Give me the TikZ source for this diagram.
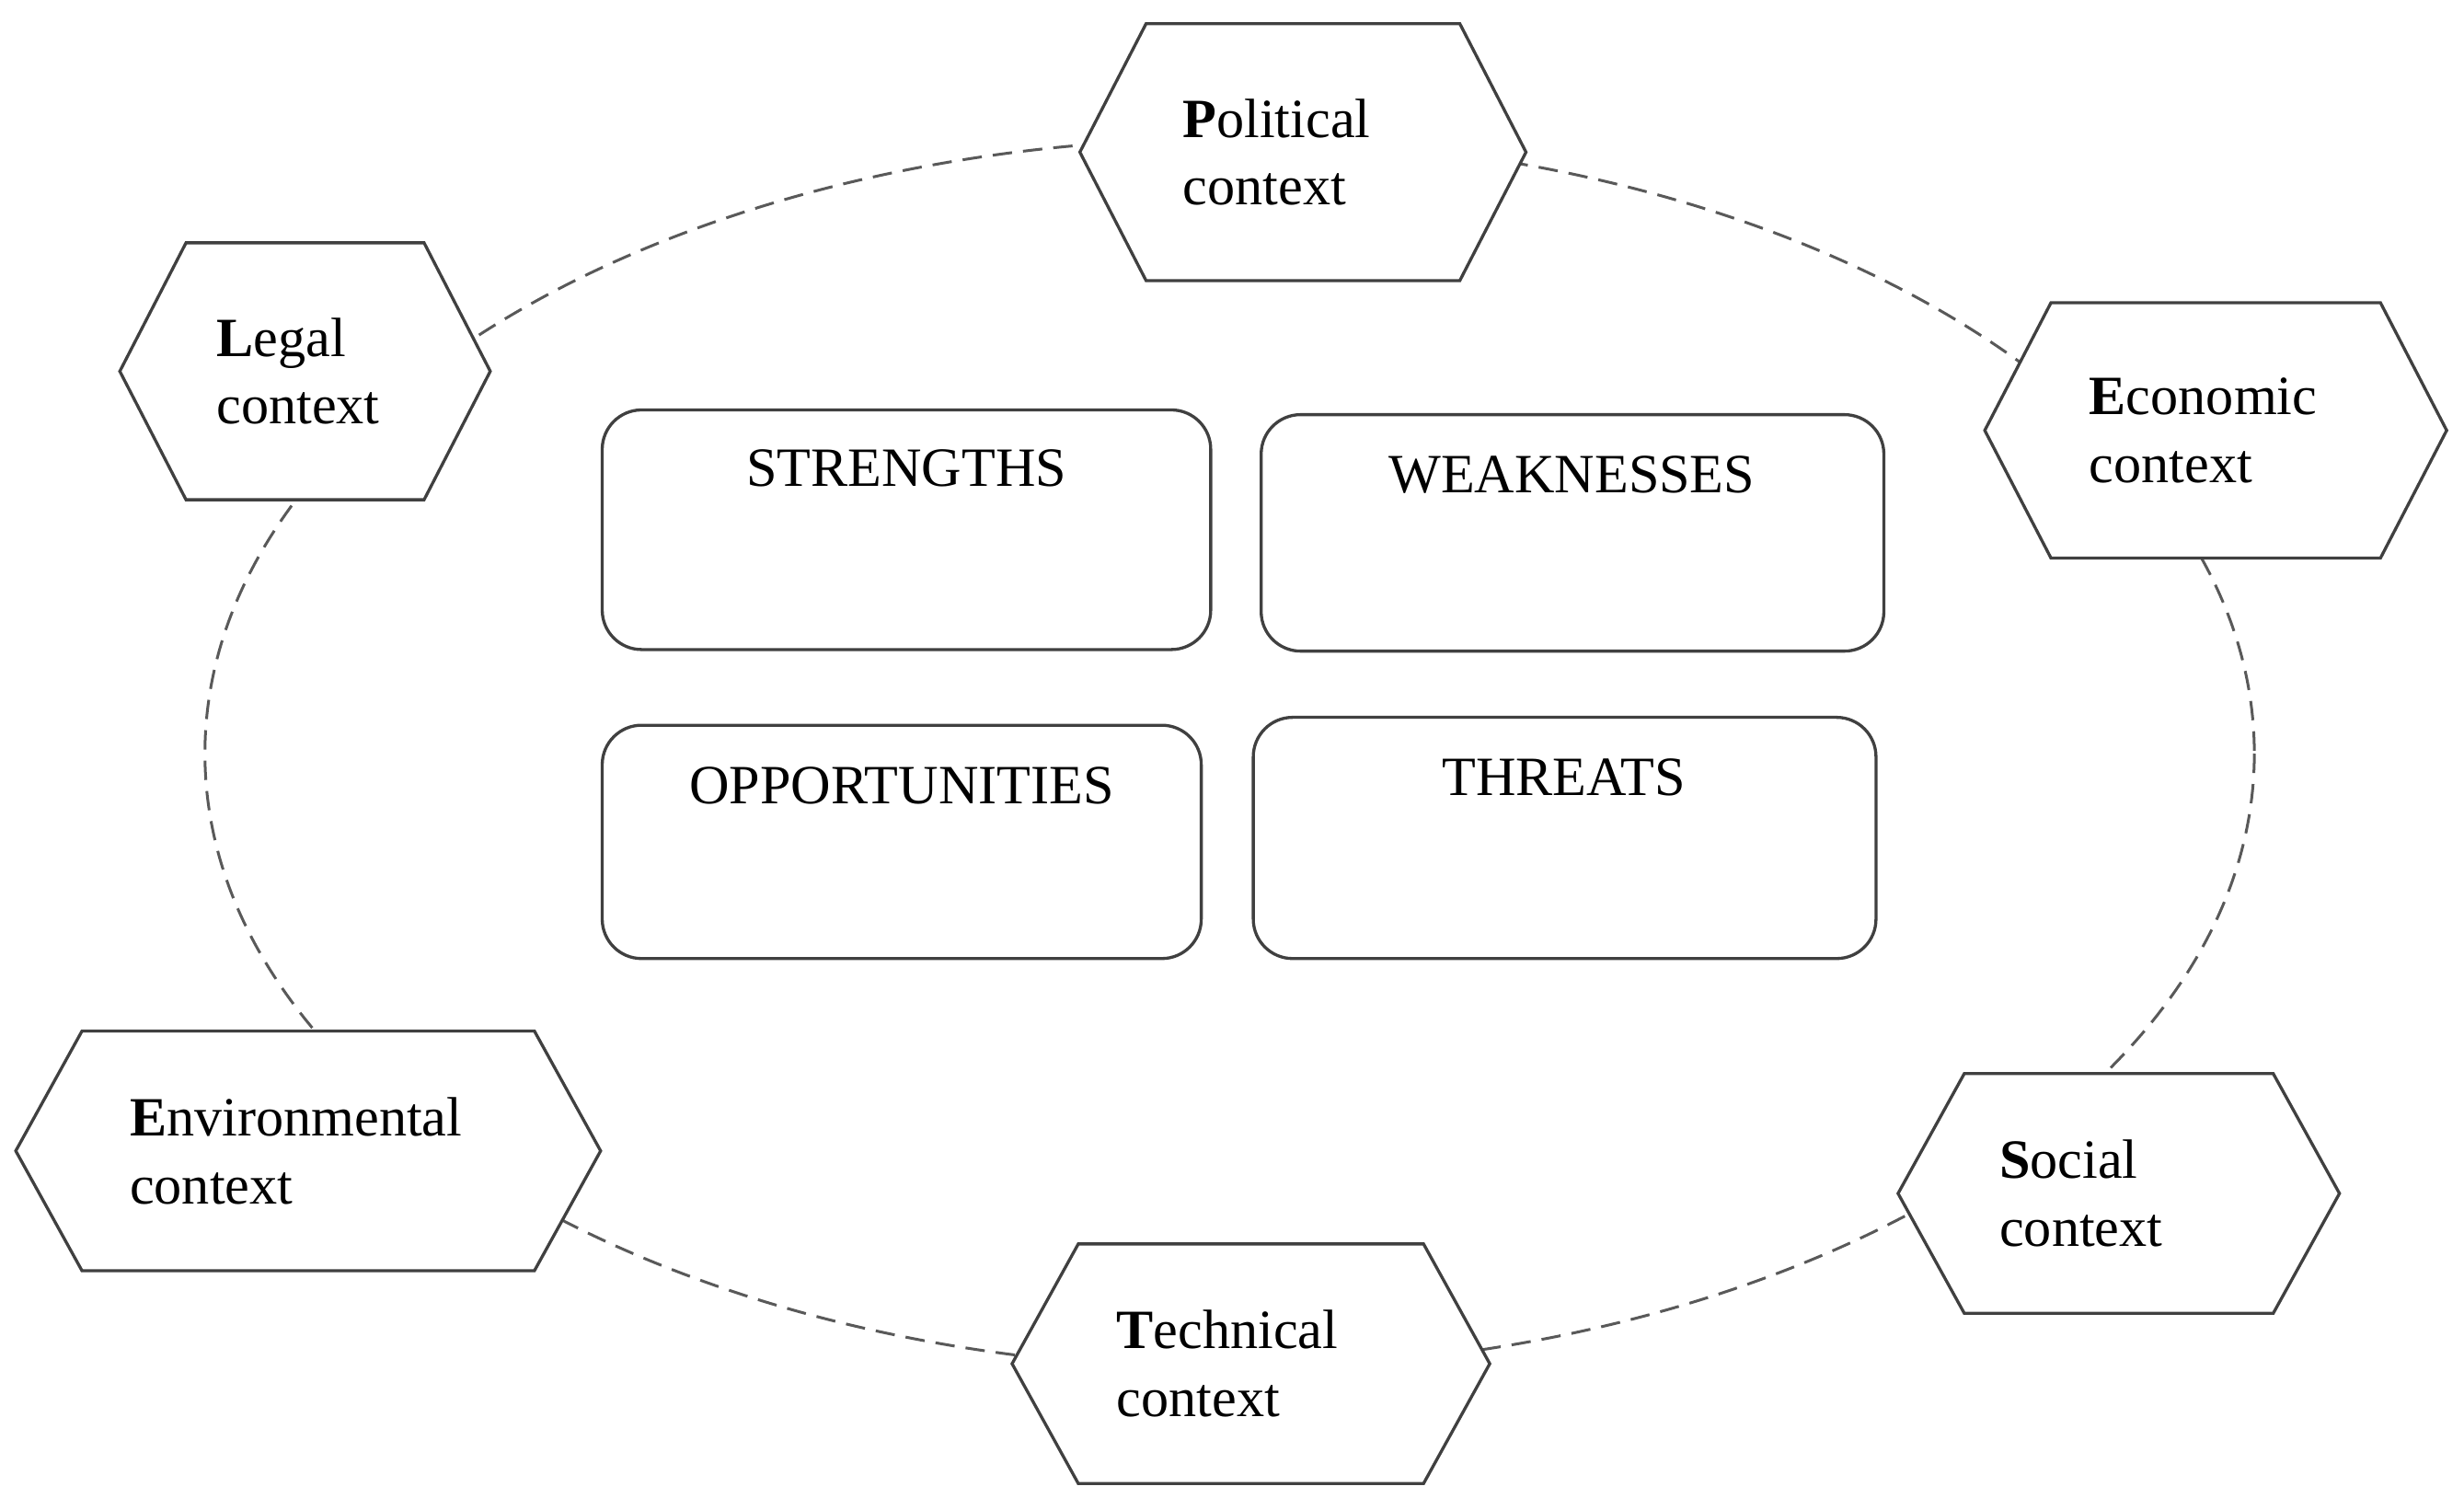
\documentclass[tikz,border=0pt]{standalone}
\usepackage{fontspec}
\setmainfont{Liberation Serif}
\begin{document}
\begin{tikzpicture}[x=0.02cm,y=-0.02cm,
  hexline/.style={draw=black!75,line width=1.1pt,fill=white},
  hextext/.style={align=left,font=\fontsize{20}{24.5}\selectfont,inner sep=0pt},
  box/.style={draw=black!75,line width=1.1pt,rounded corners=0.5cm,fill=white},
  boxtext/.style={font=\fontsize{20}{24}\selectfont,anchor=north,inner sep=0pt},
  ring/.style={draw=black!65,dashed,line width=1pt,dash pattern=on 7pt off 4pt}]
\useasboundingbox (0,0) rectangle (1563,950);
\draw[ring] (780,478) ellipse [x radius=650, y radius=390];
\newcommand{\myhex}[7]{% name x1 x2 y1 y2 textx text
  \draw[hexline] (#2,{(#4+#5)/2}) -- (#2+42,#4) -- (#3-42,#4) -- (#3,{(#4+#5)/2}) -- (#3-42,#5) -- (#2+42,#5) -- cycle;
  \node[hextext,anchor=west] (#1) at (#6,{(#4+#5)/2}) {#7};}
\myhex{pol}{685}{968}{15}{178}{750}{\textbf{P}olitical\\context}
\myhex{leg}{76}{311}{154}{317}{137}{\textbf{L}egal\\context}
\myhex{eco}{1259}{1552}{192}{354}{1325}{\textbf{E}conomic\\context}
\myhex{env}{10}{381}{654}{806}{82}{\textbf{E}nvironmental\\context}
\myhex{tec}{642}{945}{789}{941}{708}{\textbf{T}echnical\\context}
\myhex{soc}{1204}{1484}{681}{833}{1268}{\textbf{S}ocial\\context}
\draw[box] (382,260) rectangle (768,412);
\node[boxtext] (s) at (575,285) {STRENGTHS};
\draw[box] (800,263) rectangle (1195,413);
\node[boxtext] (w) at (997,289) {WEAKNESSES};
\draw[box] (382,460) rectangle (762,608);
\node[boxtext] (o) at (572,486) {OPPORTUNITIES};
\draw[box] (795,455) rectangle (1190,608);
\node[boxtext] (t) at (992,481) {THREATS};
\end{tikzpicture}
\end{document}
